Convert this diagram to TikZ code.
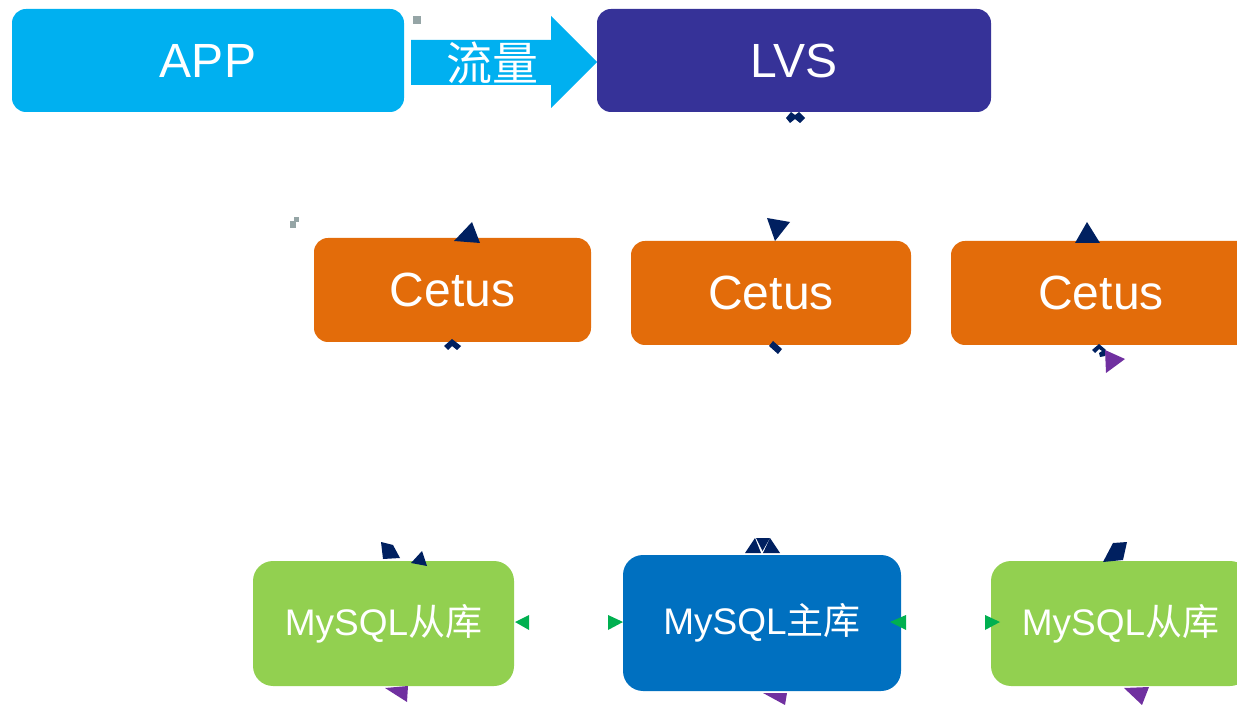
\documentclass[tikz,border=0pt]{standalone}
\usepackage{fontspec}
\setmainfont{Liberation Sans}
\newfontfamily\cjk{Noto Sans CJK SC}
\definecolor{appblue}{RGB}{0,176,240}
\definecolor{lvsblue}{RGB}{54,50,152}
\definecolor{cetusorange}{RGB}{227,108,10}
\definecolor{slavegreen}{RGB}{146,208,80}
\definecolor{masterblue}{RGB}{0,112,192}
\definecolor{navy}{RGB}{0,32,96}
\definecolor{purp}{RGB}{112,48,160}
\definecolor{tipgreen}{RGB}{0,176,80}
\definecolor{speck}{RGB}{149,165,166}
\newcommand{\dbtext}[1]{\raisebox{-1.5pt}{#1}}
\tikzset{
  box/.style={inner sep=0pt, text=white, font=\fontsize{24}{28}\selectfont},
  bigbox/.style={box, rounded corners=7pt},
  dbbox/.style={box, rounded corners=10pt, font=\fontsize{18.5}{22}\selectfont},
  navytip/.style={fill=navy},
  purptip/.style={fill=purp},
  greentip/.style={fill=tipgreen},
}
\begin{document}
\begin{tikzpicture}[x=0.5pt,y=-0.5pt]
\useasboundingbox (0,0) rectangle (1237,705);
% top row
\node[bigbox, fill=appblue, minimum width=196pt, minimum height=51.5pt] (app) at (208,60.5) {APP};
\node[bigbox, fill=lvsblue, minimum width=197pt, minimum height=51.5pt] (lvs) at (794,60.5) {LVS};
\fill[appblue] (411,40) -- (551,40) -- (551,16) -- (597,62) -- (551,108) -- (551,85) -- (411,85) -- cycle;
\node[text=white, font=\cjk\fontsize{23}{26}\selectfont, inner sep=0pt] (flow) at (492,63) {流量};
% specks
\fill[speck] (413,16) rectangle (421,24);
\fill[speck] (290,221) rectangle (296,228);
\fill[speck] (294,217) rectangle (299,222);
% cetus
\node[bigbox, fill=cetusorange, minimum width=138.5pt, minimum height=52pt] (c1) at (452.5,290) {Cetus};
\node[bigbox, fill=cetusorange, minimum width=140pt, minimum height=52pt] (c2) at (771,293) {Cetus};
\node[bigbox, fill=cetusorange, minimum width=150pt, minimum height=52pt] (c3) at (1101,293) {Cetus};
% mysql
\node[dbbox, fill=slavegreen, minimum width=130.5pt, minimum height=62.5pt] (s1) at (383.5,623.5) {\dbtext{MySQL{\cjk 从库}}};
\node[dbbox, fill=masterblue, minimum width=139pt, minimum height=68pt] (m) at (762,623) {\dbtext{MySQL{\cjk 主库}}};
\node[dbbox, fill=slavegreen, minimum width=129.5pt, minimum height=62.5pt] (s2) at (1120.5,623.5) {\dbtext{MySQL{\cjk 从库}}};
% navy tips
\fill[navytip] (786,118) -- (791,112) -- (795,115) -- (799,112) -- (805,118) -- (800,123) -- (795,119) -- (790,123) -- cycle;
\fill[navytip] (767,218) -- (790,222) -- (775,241) -- cycle;
\fill[navytip] (472,222) -- (480,243) -- (454,241) -- cycle;
\fill[navytip] (1087,222) -- (1100,243) -- (1075,243) -- cycle;
\fill[navytip] (444,346) -- (452,339) -- (461,346) -- (457,350) -- (452,346) -- (448,350) -- cycle;
\fill[navytip] (769,346) -- (773,341) -- (782,349) -- (778,354) -- cycle;
\fill[navytip] (1092,350) -- (1099,344) -- (1106,350) -- (1105,356) -- (1100,357) -- (1099,353) -- (1102,351) -- (1099,349) -- (1095,353) -- cycle;
\fill[purptip] (1105,350) -- (1125,359) -- (1106,373) -- cycle;
\fill[navytip] (381,542) -- (393,545) -- (400,558) -- (383,559) -- cycle;
\fill[navytip] (422,551) -- (427,566) -- (411,563) -- cycle;
\fill[navytip] (755,538) -- (761,553) -- (745,553) -- cycle;
\fill[navytip] (756,538) -- (770,538) -- (762.5,551) -- cycle;
\fill[navytip] (770,538) -- (780,553) -- (763,553) -- cycle;
\fill[navytip] (1113,543) -- (1127,542) -- (1123,560) -- (1103,562) -- cycle;
% green tips
\fill[greentip] (515,622) -- (529,615) -- (529,630) -- cycle;
\fill[greentip] (623,622) -- (608,615) -- (608,630) -- cycle;
\fill[greentip] (890,622) -- (906,615) -- (906,630) -- cycle;
\fill[greentip] (1000,622) -- (985,615) -- (985,630) -- cycle;
% purple tips
\fill[purptip] (385,688) -- (408,686) -- (407,702) -- cycle;
\fill[purptip] (763,693) -- (787,693) -- (785,705) -- cycle;
\fill[purptip] (1124,688) -- (1149,687) -- (1142,705) -- cycle;
\end{tikzpicture}
\end{document}
